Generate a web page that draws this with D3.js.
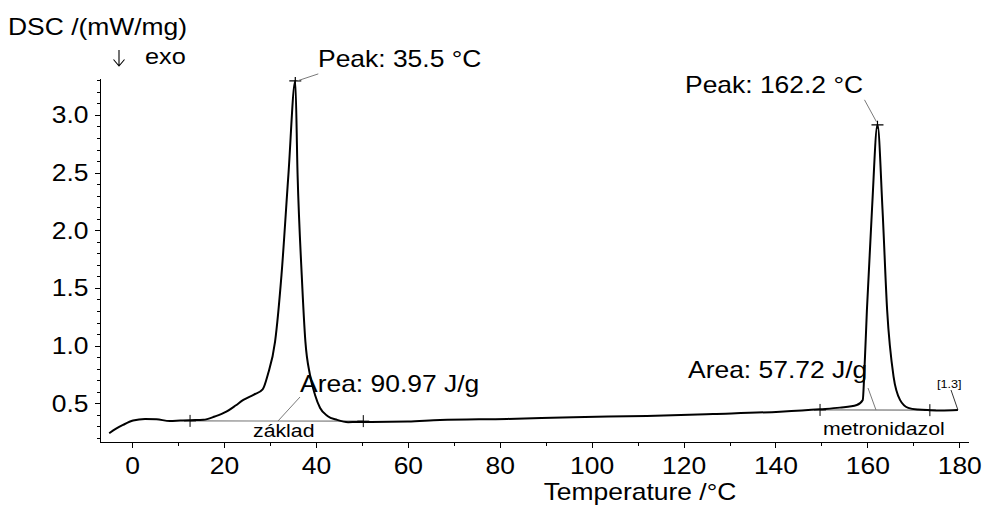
<!DOCTYPE html>
<html>
<head>
<meta charset="utf-8">
<script src="https://cdn.jsdelivr.net/npm/d3@7"></script>
<style>
  html, body { margin: 0; padding: 0; background: #fff; }
  svg { display: block; }
  text { font-family: "Liberation Sans", Arial, sans-serif; fill: #000; }
</style>
</head>
<body>
<svg id="chart" width="982" height="509"></svg>
<script>
// ---- data ----
const temperature = [-5.0, -3.5, -2.0, 0.2, 2.8, 5.3, 8.2, 10.5, 12.6, 15.5, 18.0, 20.5, 22.5, 24.2, 26.5, 28.4,
  29.5, 31.1, 32.5, 34.0, 35.5, 36.0, 36.9, 37.7, 38.7, 39.8, 40.9, 42.5, 44.6, 47.0, 48.9, 52.0, 60.0, 67.0,
  81.6, 96.0, 112.0, 126.4, 141.0, 149.7, 154.0, 157.7, 159.0, 159.3, 159.9, 161.0, 162.2, 163.3, 164.3, 165.7,
  167.1, 168.9, 171.0, 173.6, 176.0, 179.7];
const dsc = [0.240, 0.280, 0.312, 0.350, 0.364, 0.361, 0.346, 0.350, 0.353, 0.356, 0.385, 0.427, 0.480, 0.529, 0.575, 0.620,
  0.745, 1.034, 1.613, 2.480, 3.295, 2.480, 1.613, 1.034, 0.745, 0.572, 0.459, 0.390, 0.356, 0.336, 0.338, 0.338, 0.342, 0.355,
  0.364, 0.379, 0.390, 0.407, 0.427, 0.448, 0.462, 0.485, 0.529, 0.731, 1.309, 2.176, 2.914, 2.176, 1.309, 0.731,
  0.529, 0.460, 0.445, 0.440, 0.438, 0.442];

const xTickValues = [0, 20, 40, 60, 80, 100, 120, 140, 160, 180];
const xTickLabels = ["0", "20", "40", "60", "80", "100", "120", "140", "160", "180"];
const yTickValues = [0.5, 1.0, 1.5, 2.0, 2.5, 3.0];
const yTickLabels = ["0.5", "1.0", "1.5", "2.0", "2.5", "3.0"];

// peaks: [temperature, value]
const peakT = [35.5, 162.2];
const peakV = [3.295, 2.914];
const peakLabels = ["Peak: 35.5 °C", "Peak: 162.2 °C"];
// integration limits and baselines
const limitT = [12.6, 50.3, 149.7, 173.6];
const limitV = [0.347, 0.345, 0.442, 0.440];
const areaLabels = ["Area: 90.97 J/g", "Area: 57.72 J/g"];
const sampleLabels = ["základ", "metronidazol"];

// ---- layout ----
const svg = d3.select("#chart");
const x = d3.scaleLinear().domain([-7.0, 181.9]).range([100, 968]);
const y = d3.scaleLinear().domain([0.164, 3.32]).range([442, 78]);
const SX = 1.15; // horizontal stretch of the reference's text

function label(px, py, str, size, anchor) {
  return svg.append("text")
    .attr("transform", `translate(${px},${py}) scale(${SX},1)`)
    .attr("font-size", size)
    .attr("text-anchor", anchor || "start")
    .text(str);
}

// axes
const yMinor = d3.range(2, 34).map(d => d / 10).filter(v => !yTickValues.some(t => Math.abs(t - v) < 1e-6));
const xMinor = d3.range(0, 19).map(d => d * 10).filter(v => !xTickValues.includes(v));

const gy = svg.append("g").attr("transform", "translate(100,0)");
gy.call(d3.axisLeft(y).tickValues(yTickValues).tickFormat((d, i) => yTickLabels[i]).tickSize(5).tickSizeOuter(0));
gy.append("g").call(d3.axisLeft(y).tickValues(yMinor).tickFormat("").tickSize(3).tickSizeOuter(0))
  .select(".domain").remove();
gy.selectAll(".tick text")
  .attr("font-size", 23)
  .attr("x", null).attr("dy", null)
  .attr("transform", `translate(-11.5,8) scale(${SX},1)`)
  .attr("fill", "#000");

const gx = svg.append("g").attr("transform", "translate(0,442)");
gx.call(d3.axisBottom(x).tickValues(xTickValues).tickFormat((d, i) => xTickLabels[i]).tickSize(6).tickSizeOuter(0));
gx.append("g").call(d3.axisBottom(x).tickValues(xMinor).tickFormat("").tickSize(4).tickSizeOuter(0))
  .select(".domain").remove();
gx.selectAll(".tick text")
  .attr("font-size", 23)
  .attr("y", null).attr("dy", null)
  .attr("transform", `translate(0,32) scale(${SX},1)`)
  .attr("fill", "#000");
svg.selectAll(".domain, .tick line").attr("stroke", "#000").attr("stroke-width", 1).attr("shape-rendering", "crispEdges");

// axis titles
label(8, 35, "DSC /(mW/mg)", 23);
// "↓" exo arrow
svg.append("path").attr("d", "M119,50V66M113.5,59.5L119,66L124.5,59.5")
  .attr("fill", "none").attr("stroke", "#000").attr("stroke-width", 1.1);
label(145, 64, "exo", 22);
label(640, 500, "Temperature /°C", 23, "middle");

// baselines (grey)
const grey = "#7a7a7a";
for (let k = 0; k < 2; k++) {
  svg.append("line")
    .attr("x1", x(limitT[2 * k])).attr("y1", y(limitV[2 * k]))
    .attr("x2", x(limitT[2 * k + 1])).attr("y2", y(limitV[2 * k + 1]))
    .attr("stroke", grey).attr("stroke-width", 1.2);
}

// curve
const pts = temperature.map((t, i) => [t, dsc[i]]);
svg.append("path")
  .datum(pts)
  .attr("fill", "none").attr("stroke", "#000").attr("stroke-width", 2)
  .attr("stroke-linejoin", "round")
  .attr("d", d3.line().x(d => x(d[0])).y(d => y(d[1])).curve(d3.curveMonotoneX));

// integration limit crosses
limitT.forEach((t, i) => {
  const cx = x(t), cy = y(limitV[i]);
  svg.append("path").attr("d", `M${cx - 6},${cy}H${cx + 6}M${cx},${cy - 6}V${cy + 6}`)
    .attr("stroke", "#000").attr("stroke-width", 1).attr("fill", "none");
});

// peak markers and leaders
peakT.forEach((t, i) => {
  const cx = x(t), cy = y(peakV[i]);
  svg.append("path").attr("d", `M${cx - 6},${cy}H${cx + 6}M${cx},${cy - 4}V${cy + 4}`)
    .attr("stroke", "#000").attr("stroke-width", 1.2).attr("fill", "none");
});
// leader from peak 1 to its label
svg.append("line").attr("x1", x(peakT[0]) + 2).attr("y1", y(peakV[0]))
  .attr("x2", x(peakT[0]) + 23).attr("y2", y(peakV[0]) - 7).attr("stroke", grey).attr("stroke-width", 1);
label(318, 67, peakLabels[0], 23);
// leader from label to peak 2
svg.append("line").attr("x1", x(peakT[1]) - 13).attr("y1", y(peakV[1]) - 25)
  .attr("x2", x(peakT[1]) - 1).attr("y2", y(peakV[1]) - 3).attr("stroke", grey).attr("stroke-width", 1);
label(685, 93, peakLabels[1], 23);

// area labels and leaders
svg.append("line").attr("x1", 300).attr("y1", 397).attr("x2", 278).attr("y2", y(0.346))
  .attr("stroke", grey).attr("stroke-width", 1);
label(300, 392, areaLabels[0], 23);
svg.append("line").attr("x1", 868).attr("y1", 388).attr("x2", 876).attr("y2", y(0.441))
  .attr("stroke", grey).attr("stroke-width", 1);
label(688, 378, areaLabels[1], 23);

label(253, 437, sampleLabels[0], 18.5);
label(823, 435, sampleLabels[1], 18.5);

// [1.3] label
svg.append("line").attr("x1", 951).attr("y1", 390).attr("x2", x(temperature[temperature.length - 1]))
  .attr("y2", y(dsc[dsc.length - 1])).attr("stroke", "#000").attr("stroke-width", 0.8);
label(937, 388, "[1.3]", 11).attr("fill", "#333");
</script>
</body>
</html>
